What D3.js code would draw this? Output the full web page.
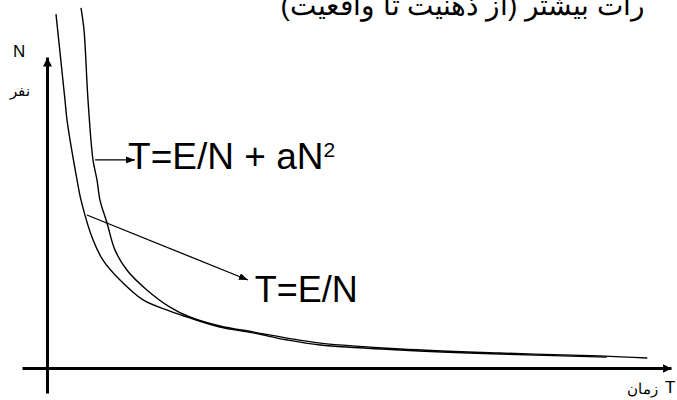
<!DOCTYPE html>
<html>
<head>
<meta charset="utf-8">
<script src="https://cdn.jsdelivr.net/npm/d3@7"></script>
<style>
  html, body { margin: 0; padding: 0; background: #fff; }
  svg { display: block; }
</style>
</head>
<body>
<script>
// ---------------- data (T = time, N = people) ----------------
// Curve T = E/N   ([T, N])
const curveSimple = [
  [0.144, 11.38], [0.288, 8.62], [0.321, 7.97], [0.481, 6.05], [0.545, 5.40],
  [0.737, 4.12], [0.897, 3.47], [1.17, 2.83], [1.54, 2.19], [1.97, 1.83],
  [2.29, 1.61], [2.77, 1.32], [3.30, 1.13], [3.85, 0.90], [4.38, 0.74],
  [5.66, 0.58], [7.26, 0.45], [8.97, 0.35]
];
// Curve T = E/N + aN^2
const curveQuad = [
  [0.545, 11.58], [0.593, 10.87], [0.657, 8.62], [0.737, 6.69], [0.801, 6.05],
  [0.849, 5.40], [0.962, 4.66], [1.09, 3.79], [1.28, 3.15], [1.60, 2.51],
  [1.97, 1.96], [2.29, 1.64], [2.77, 1.35], [3.30, 1.16], [3.85, 0.96],
  [4.38, 0.80], [5.66, 0.61], [7.26, 0.48], [8.86, 0.39], [9.62, 0.32]
];
// annotation arrows: [from, to] in data units
const arrowQuad = [[0.77, 6.69], [1.41, 6.69]];
const arrowSimple = [[0.64, 4.92], [3.22, 2.83]];
// labels
const labelQuad = { main: "T=E/N + aN", sup: "2", at: [1.30, 6.41] };
const labelSimple = { text: "T=E/N", at: [3.33, 2.12] };
const axisLabels = { x: "T", xFa: "زمان", y: "N", yFa: "نفر" };
const titleText = "رات بیشتر (از ذهنیت تا واقعیت)";
const xDomain = [0, 10], yDomain = [0, 10];
const xAxisExtent = [-0.4, 10], yAxisExtent = [-0.8, 10];

// ---------------- drawing ----------------
const W = 677, H = 400;
const x = d3.scaleLinear().domain(xDomain).range([47, 671]);
const y = d3.scaleLinear().domain(yDomain).range([368, 57]);

const svg = d3.select("body").append("svg")
  .attr("width", W).attr("height", H)
  .style("font-family", "'Liberation Sans', Arial, sans-serif");

const defs = svg.append("defs");
function marker(id, len, wid) {
  defs.append("marker").attr("id", id)
    .attr("markerUnits", "userSpaceOnUse")
    .attr("viewBox", `0 ${-wid/2} ${len} ${wid}`)
    .attr("refX", len).attr("refY", 0)
    .attr("markerWidth", len).attr("markerHeight", wid)
    .attr("orient", "auto")
    .append("path").attr("d", `M0,${-wid/2}L${len},0L0,${wid/2}Z`).attr("fill", "#000");
}
marker("axisHead", 9, 9);
marker("annHead", 9, 7);

// axes (no ticks)
const xAxisScale = d3.scaleLinear().domain(xAxisExtent).range([x(xAxisExtent[0]), x(xAxisExtent[1])]);
const yAxisScale = d3.scaleLinear().domain(yAxisExtent).range([y(yAxisExtent[0]), y(yAxisExtent[1])]);

const gx = svg.append("g").attr("transform", `translate(0,${y(0)})`)
  .call(d3.axisBottom(xAxisScale).tickValues([]).tickSizeOuter(0));
gx.select(".domain").attr("stroke", "#000").attr("stroke-width", 3).attr("marker-end", "url(#axisHead)");

const gy = svg.append("g").attr("transform", `translate(${x(0)},0)`)
  .call(d3.axisLeft(yAxisScale).tickValues([]).tickSizeOuter(0));
gy.select(".domain").attr("stroke", "#000").attr("stroke-width", 3).attr("marker-end", "url(#axisHead)");

// curves
const line = d3.line().x(d => x(d[0])).y(d => y(d[1])).curve(d3.curveCatmullRom.alpha(0.5));
svg.append("path").datum(curveSimple).attr("d", line)
  .attr("fill", "none").attr("stroke", "#000").attr("stroke-width", 1.4);
svg.append("path").datum(curveQuad).attr("d", line)
  .attr("fill", "none").attr("stroke", "#000").attr("stroke-width", 1.4);

// annotation arrows
const straight = d3.line().x(d => x(d[0])).y(d => y(d[1]));
[arrowQuad, arrowSimple].forEach(a => {
  svg.append("path").datum(a).attr("d", straight)
    .attr("fill", "none").attr("stroke", "#000").attr("stroke-width", 1.3)
    .attr("marker-end", "url(#annHead)");
});

// annotation labels
const tq = svg.append("text").attr("x", x(labelQuad.at[0])).attr("y", y(labelQuad.at[1]))
  .attr("font-size", 37).attr("fill", "#000");
tq.append("tspan").text(labelQuad.main);
tq.append("tspan").attr("font-size", 21).attr("dy", -12).text(labelQuad.sup);

svg.append("text").attr("x", x(labelSimple.at[0])).attr("y", y(labelSimple.at[1]))
  .attr("font-size", 36).attr("fill", "#000").text(labelSimple.text);

// axis labels
svg.append("text").attr("x", 13).attr("y", 57).attr("font-size", 17).text(axisLabels.y);
svg.append("text").attr("x", 30).attr("y", 96).attr("font-size", 15)
  .attr("direction", "rtl").attr("text-anchor", "start").text(axisLabels.yFa);
svg.append("text").attr("x", 665).attr("y", 393).attr("font-size", 17).text(axisLabels.x);
svg.append("text").attr("x", 658).attr("y", 394).attr("font-size", 15)
  .attr("direction", "rtl").attr("text-anchor", "start").text(axisLabels.xFa);

// title (clipped at top edge, as in the reference)
svg.append("text").attr("x", 645).attr("y", 15).attr("font-size", 28)
  .attr("direction", "rtl").attr("text-anchor", "start").text(titleText);
</script>
</body>
</html>
